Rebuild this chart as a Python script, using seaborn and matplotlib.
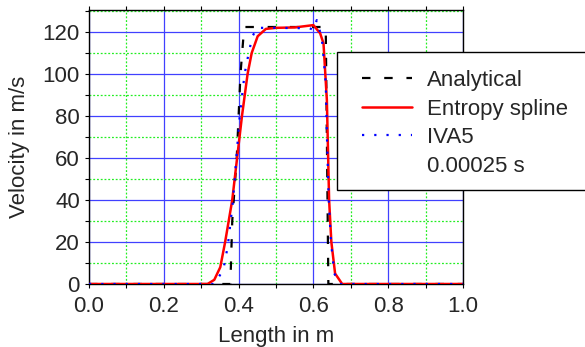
import numpy as np
import pandas as pd
import matplotlib
matplotlib.use("Agg")
import matplotlib.pyplot as plt
from matplotlib.lines import Line2D
from matplotlib.patches import Rectangle
import seaborn as sns

# ---- data ----
analytical_x = [0.0, 0.378, 0.383, 0.395, 0.405, 0.415, 0.633, 0.640, 1.0]
analytical_y = [0, 0, 30, 60, 100, 122.4, 122.4, 0, 0]

entropy_x = [0.0, 0.317, 0.335, 0.351, 0.364, 0.383, 0.396, 0.409, 0.424, 0.435, 0.451,
             0.473, 0.5, 0.55, 0.6, 0.618, 0.627, 0.636, 0.642, 0.648, 0.658, 0.677, 1.0]
entropy_y = [0, 0, 2, 8, 20, 40, 60, 80, 100, 110, 118,
             121.5, 122, 122.2, 123.3, 119.4, 114.6, 87.6, 40, 20, 5, 0, 0]

iva_x = [0.0, 0.335, 0.359, 0.371, 0.384, 0.394, 0.403, 0.416, 0.427, 0.437, 0.45,
         0.5, 0.59, 0.6, 0.609, 0.618, 0.624, 0.633, 0.636, 0.641, 0.647, 0.656, 0.67, 1.0]
iva_y = [0, 0, 6.7, 18, 38, 60, 80, 100, 110, 118, 122,
         122, 121.8, 121, 125.7, 120, 114.6, 95.6, 71.7, 40, 20, 5, 0, 0]

legend_labels = ["Analytical", "Entropy spline", "IVA5", "0.00025 s"]
x_label = "Length in m"
y_label = "Velocity in m/s"

sns.set_style("white")
plt.rcParams['font.family'] = ['Liberation Sans', 'DejaVu Sans']

fig = plt.figure(figsize=(5.85, 3.47), dpi=100)
ax = fig.add_axes([89/585, 1-284/347, (463-89)/585, (284-10)/347])

df_a = pd.DataFrame({"x": analytical_x, "y": analytical_y})
df_e = pd.DataFrame({"x": entropy_x, "y": entropy_y})
df_i = pd.DataFrame({"x": iva_x, "y": iva_y})

lw_a, lw_e, lw_i = 1.6, 1.8, 1.6
sns.lineplot(data=df_a, x="x", y="y", ax=ax, color="black", lw=lw_a,
             sort=False, zorder=3).lines[-1].set_dashes((3.8, 6.2))
sns.lineplot(data=df_e, x="x", y="y", ax=ax, color="#ff0000", lw=lw_e, sort=False, zorder=4)
l_i = sns.lineplot(data=df_i, x="x", y="y", ax=ax, color="#0000ff", lw=lw_i, sort=False, zorder=5).lines[-1]
l_i.set_dashes((1, 4.5))

ax.set_xlim(0, 1.0)
ax.set_ylim(0, 130.5)
ax.set_xticks(np.arange(0, 1.01, 0.2))
ax.set_xticks(np.arange(0.1, 1.0, 0.2), minor=True)
ax.set_yticks(np.arange(0, 121, 20))
ax.set_yticks(np.arange(10, 131, 20), minor=True)
ax.set_xticklabels([f"{v:.1f}" for v in np.arange(0, 1.01, 0.2)])

ax.grid(True, which="major", color="#4040ff", lw=0.9, ls="-", zorder=1)
ax.grid(True, which="minor", color="#22ee22", lw=0.9, ls=(0, (1.5, 1.5)), zorder=1)
ax.set_axisbelow(True)

for s in ax.spines.values():
    s.set_visible(True)
    s.set_color("black")
    s.set_linewidth(1.0)

ax.tick_params(which="both", direction="out", length=3, width=0.8, color="black",
               labelsize=16, left=True, bottom=True, top=True)
ax.tick_params(axis="x", which="both", pad=6)
ax.tick_params(axis="y", which="both", pad=3.5)
ax.set_xlabel(x_label, fontsize=16, labelpad=6)
ax.set_ylabel(y_label, fontsize=16, labelpad=9.5)

# legend box (extends beyond right edge like the reference)
rect = Rectangle((337/585, 1-190/347), 0.5, (190-51.7)/347, transform=fig.transFigure,
                 facecolor="white", edgecolor="black", lw=1.0, zorder=10, clip_on=False)
fig.patches.append(rect)

handles = [
    Line2D([], [], color="black", lw=lw_a, dashes=(3.8, 6.2)),
    Line2D([], [], color="#ff0000", lw=lw_e),
    Line2D([], [], color="#0000ff", lw=lw_i, dashes=(1, 4.5)),
    Line2D([], [], ls="none"),
]
leg = fig.legend(handles, legend_labels, loc="upper left",
                 bbox_to_anchor=(361.7/585, 1-70/347), frameon=False,
                 fontsize=16, handlelength=2.25, handletextpad=0.68,
                 labelspacing=0.34, borderpad=0, borderaxespad=0)
leg.set_zorder(11)

fig.savefig("out.png", dpi=100)
